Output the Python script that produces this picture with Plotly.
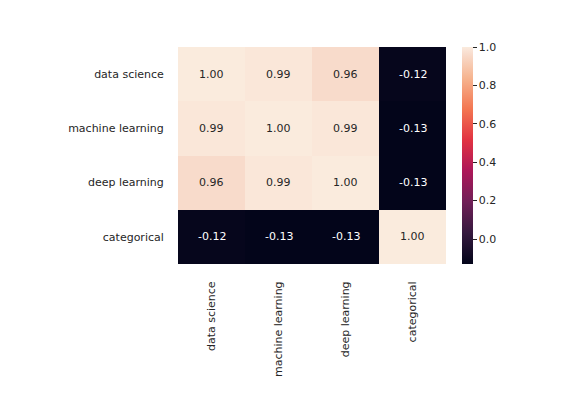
import plotly.graph_objects as go

labels = ["data science", "machine learning", "deep learning", "categorical"]
row_data_science = [1.00, 0.99, 0.96, -0.12]
row_machine_learning = [0.99, 1.00, 0.99, -0.13]
row_deep_learning = [0.96, 0.99, 1.00, -0.13]
row_categorical = [-0.12, -0.13, -0.13, 1.00]
z = [row_data_science, row_machine_learning, row_deep_learning, row_categorical]
cbar_ticks = [0.0, 0.2, 0.4, 0.6, 0.8, 1.0]

rocket = [
    [0.0, "#03051A"], [0.143, "#35193E"], [0.286, "#701F57"], [0.429, "#AD1759"],
    [0.571, "#E13342"], [0.714, "#F37651"], [0.857, "#F6B48F"], [0.965, "#F8DBCB"],
    [0.99, "#FAE6D9"], [1.0, "#FAEBDD"],
]

OFF = 8  # browser body margin
W, H = 585 - OFF, 393 - OFF
x0, x1 = 178 - OFF, 446 - OFF
y0, y1 = 47 - OFF, 264 - OFF
cbx = 462 - OFF
zmin, zmax = -0.13, 1.0

fig = go.Figure(go.Heatmap(
    z=z, x=labels, y=labels, colorscale=rocket, zmin=zmin, zmax=zmax,
    hoverinfo="skip",
    colorbar=dict(
        thickness=11, thicknessmode="pixels",
        len=(y1 - y0) / H, lenmode="fraction",
        x=cbx / W, xanchor="left", xref="paper",
        y=1 - y1 / H, yanchor="bottom", yref="paper",
        outlinewidth=0, ticks="outside", ticklen=4, tickwidth=1, tickcolor="#262626",
        tickvals=cbar_ticks, tickformat=".1f",
        tickfont=dict(size=11, color="#262626", family="DejaVu Sans"),
        xpad=0, ypad=0,
    ),
))

annotations = []
for i, row in enumerate(z):
    for j, v in enumerate(row):
        frac = (v - zmin) / (zmax - zmin)
        annotations.append(dict(
            x=labels[j], y=labels[i], text=f"{v:.2f}", showarrow=False,
            font=dict(size=11, family="DejaVu Sans", color="#262626" if frac > 0.5 else "white"),
        ))

fig.update_layout(
    width=W, height=H, margin=dict(l=0, r=0, t=0, b=0),
    paper_bgcolor="white", plot_bgcolor="white",
    font=dict(family="DejaVu Sans", size=11, color="#262626"),
    annotations=annotations,
    xaxis=dict(domain=[x0 / W, x1 / W], tickangle=-90, ticks="outside", ticklen=12,
               tickcolor="rgba(0,0,0,0)", showgrid=False, zeroline=False,
               tickfont=dict(size=11, color="#262626")),
    yaxis=dict(domain=[1 - y1 / H, 1 - y0 / H], autorange="reversed", ticks="outside",
               ticklen=11, tickcolor="rgba(0,0,0,0)", showgrid=False, zeroline=False,
               tickfont=dict(size=11, color="#262626")),
)

fig.write_html("out.html")
